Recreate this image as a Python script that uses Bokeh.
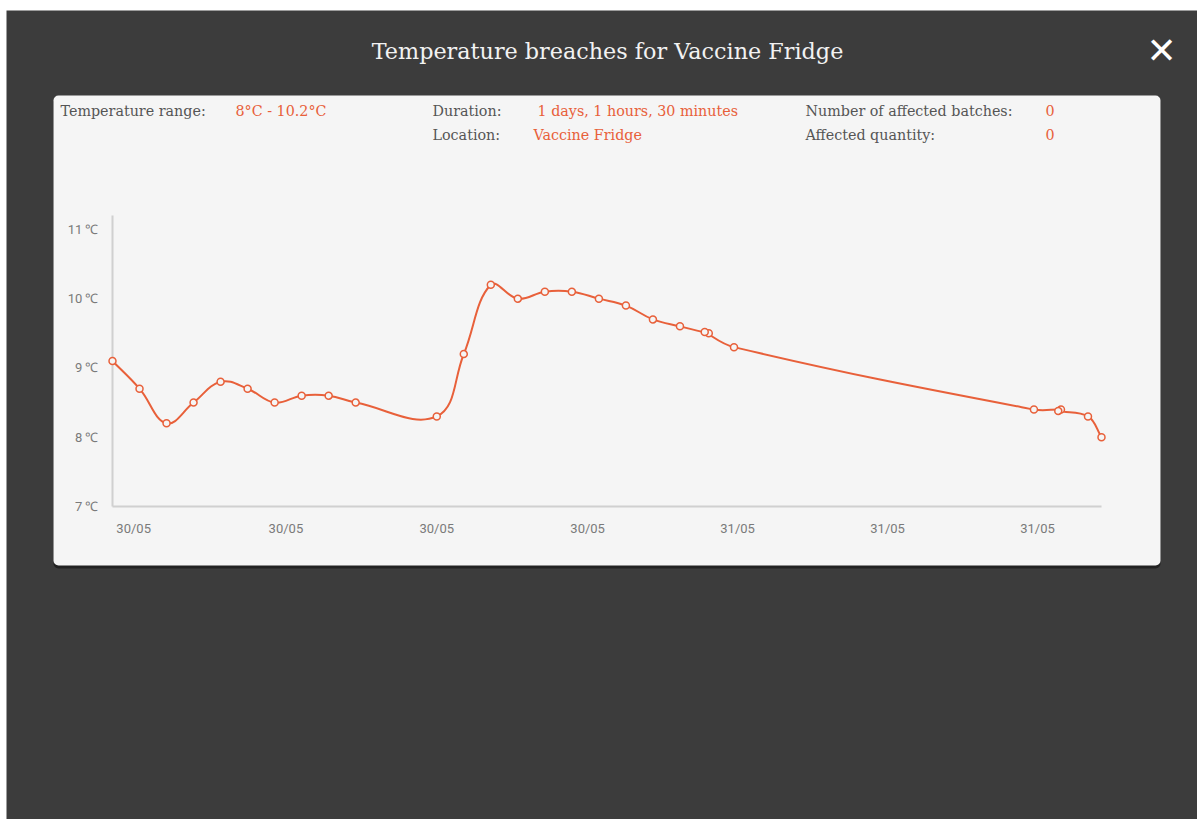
import math
import pandas as pd
from bokeh.plotting import figure
from bokeh.models import (Range1d, BoxAnnotation, Label, LabelSet, ColumnDataSource)
from bokeh.core.properties import value
from bokeh.embed import file_html
from bokeh.resources import INLINE

# ---------------- data ----------------
times = [
    "2023-05-30 02:00", "2023-05-30 03:00", "2023-05-30 04:00", "2023-05-30 05:00",
    "2023-05-30 06:00", "2023-05-30 07:00", "2023-05-30 08:00", "2023-05-30 09:00",
    "2023-05-30 10:00", "2023-05-30 11:00", "2023-05-30 14:00", "2023-05-30 15:00",
    "2023-05-30 16:00", "2023-05-30 17:00", "2023-05-30 18:00", "2023-05-30 19:00",
    "2023-05-30 20:00", "2023-05-30 21:00", "2023-05-30 22:00", "2023-05-30 23:00",
    "2023-05-31 00:04", "2023-05-30 23:55", "2023-05-31 01:00", "2023-05-31 12:06",
    "2023-05-31 13:06", "2023-05-31 13:00", "2023-05-31 14:06", "2023-05-31 14:36",
]
temps = [
    9.1, 8.7, 8.2, 8.5,
    8.8, 8.7, 8.5, 8.6,
    8.6, 8.5, 8.3, 9.2,
    10.2, 10.0, 10.1, 10.1,
    10.0, 9.9, 9.7, 9.6,
    9.5, 9.52, 9.3, 8.4,
    8.4, 8.38, 8.3, 8.0,
]
tick_times = ["2023-05-30 02:47", "2023-05-30 08:25", "2023-05-30 14:00", "2023-05-30 19:35",
              "2023-05-31 01:08", "2023-05-31 06:41", "2023-05-31 12:14"]
tick_labels = ["30/05", "30/05", "30/05", "30/05", "31/05", "31/05", "31/05"]
y_ticks = [7, 8, 9, 10, 11]
y_tick_labels = ["7 ℃", "8 ℃", "9 ℃", "10 ℃", "11 ℃"]
y_min, y_max = 7, 11.2

title_text = "Temperature breaches for Vaccine Fridge"
info_keys = ["Temperature range:", "Duration:", "Location:",
             "Number of affected batches:", "Affected quantity:"]
info_values = ["8°C - 10.2°C", "1 days, 1 hours, 30 minutes", "Vaccine Fridge", "0", "0"]

# ---------------- styles / layout (pixels) ----------------
ORANGE = "#e8603a"
DARK = "#3c3c3c"
PANEL = "#f5f5f5"
AXIS = "#d0d0d0"
W, H = 1197, 819
PL, PR, PT, PB = 112, 1101, 215, 506      # chart area inside the canvas

dt = pd.to_datetime(times)
epoch = pd.Timestamp("1970-01-01")
xms = [(t - epoch) / pd.Timedelta(milliseconds=1) for t in dt]
hrs = [(t - dt[0]) / pd.Timedelta(hours=1) for t in dt]
tick_ms = [(pd.Timestamp(t) - epoch) / pd.Timedelta(milliseconds=1) for t in tick_times]
x_lo, x_hi = xms[0], max(xms)

# Chart.js-like spline control points (tension 0.4)
def controls(xs, ys, tension=0.4, yscale=2.57):
    n = len(xs)
    prev_cp, next_cp = [], []
    for i in range(n):
        x0, y0 = (xs[i - 1], ys[i - 1]) if i > 0 else (xs[i], ys[i])
        x1, y1 = xs[i], ys[i]
        x2, y2 = (xs[i + 1], ys[i + 1]) if i < n - 1 else (xs[i], ys[i])
        d01 = math.hypot(x1 - x0, (y1 - y0) * yscale)
        d12 = math.hypot(x2 - x1, (y2 - y1) * yscale)
        tot = d01 + d12
        fa = tension * (d01 / tot if tot else 0)
        fb = tension * (d12 / tot if tot else 0)
        prev_cp.append((x1 - fa * (x2 - x0), y1 - fa * (y2 - y0)))
        next_cp.append((x1 + fb * (x2 - x0), y1 + fb * (y2 - y0)))
    return prev_cp, next_cp

pc, nc = controls(hrs, temps)
h2ms = lambda h: xms[0] + h * 3600000.0
seg = dict(
    x0=xms[:-1], y0=temps[:-1], x1=xms[1:], y1=temps[1:],
    cx0=[h2ms(c[0]) for c in nc[:-1]], cy0=[c[1] for c in nc[:-1]],
    cx1=[h2ms(c[0]) for c in pc[1:]], cy1=[c[1] for c in pc[1:]],
)

# ranges so that the data area lands on the chart area of a full-canvas frame
sx = (x_hi - x_lo) / (PR - PL)
sy = (y_max - y_min) / (PB - PT)
x_range = Range1d(x_lo - PL * sx, x_hi + (W - PR) * sx)
y_range = Range1d(y_min - (H - PB) * sy, y_max + PT * sy)

p = figure(width=W, height=H, output_backend="svg", toolbar_location=None,
           x_range=x_range, y_range=y_range,
           x_axis_location=None, y_axis_location=None,
           min_border=0)
p.border_fill_color = "#ffffff"
p.background_fill_color = "#ffffff"
p.outline_line_color = None
p.grid.visible = False

def scr_box(l, t, r, b, **kw):
    return BoxAnnotation(left=l, right=r, top=H - t, bottom=H - b,
                         left_units="screen", right_units="screen",
                         top_units="screen", bottom_units="screen",
                         line_color=None, level="underlay", **kw)

# page background, panel shadow, panel
p.add_layout(scr_box(6, 10, W, H, fill_color=DARK, fill_alpha=1))
p.add_layout(scr_box(53, 97, 1160, 568, fill_color="#1c1c1c", fill_alpha=0.8, border_radius=5))
p.add_layout(scr_box(53, 95, 1160, 565, fill_color=PANEL, fill_alpha=1, border_radius=5))

# axes lines
p.segment(x0=[x_lo, x_lo], y0=[y_min, y_min], x1=[x_lo, x_hi], y1=[y_max, y_min],
          line_color=AXIS, line_width=2)

# tick labels
p.add_layout(LabelSet(source=ColumnDataSource(dict(x=tick_ms, y=[y_min] * len(tick_ms), t=tick_labels)),
                      x="x", y="y", text="t", y_offset=-22,
                      text_align="center", text_baseline="middle",
                      text_font=value("Roboto"), text_font_size=value("13px"),
                      text_color=value("#7a7a7a")))
p.add_layout(LabelSet(source=ColumnDataSource(dict(x=[x_lo] * len(y_ticks), y=y_ticks, t=y_tick_labels)),
                      x="x", y="y", text="t", x_offset=-14,
                      text_align="right", text_baseline="middle",
                      text_font=value("Roboto"), text_font_size=value("13px"),
                      text_color=value("#7a7a7a")))

# series
p.bezier(x0="x0", y0="y0", x1="x1", y1="y1", cx0="cx0", cy0="cy0", cx1="cx1", cy1="cy1",
         source=ColumnDataSource(seg), line_color=ORANGE, line_width=2)
p.scatter(xms, temps, size=7, marker="circle", fill_color=PANEL,
          line_color=ORANGE, line_width=1.5)

# texts
def scr_label(x, y, text, **kw):
    return Label(x=x, y=H - y, x_units="screen", y_units="screen", text=text,
                 text_baseline="middle", **kw)

p.add_layout(scr_label(607, 50, title_text, text_align="center",
                       text_font="DejaVu Serif", text_font_size="22.3px", text_color="#f2f2f2"))
p.add_layout(scr_label(1161, 50, "✕", text_align="center",
                       text_font="DejaVu Sans", text_font_size="36px", text_color="#ffffff"))

key_pos = [(60, 110), (432, 110), (432, 134), (805, 110), (805, 134)]
val_pos = [(235, 110), (537, 110), (533, 134), (1045, 110), (1045, 134)]
for k, (kx, ky) in zip(info_keys, key_pos):
    p.add_layout(scr_label(kx, ky, k, text_align="left", text_font="DejaVu Serif",
                           text_font_size="14.3px", text_color="#555555"))
for v, (vx, vy) in zip(info_values, val_pos):
    p.add_layout(scr_label(vx, vy, v, text_align="left", text_font="DejaVu Serif",
                           text_font_size="14.3px", text_color=ORANGE))

open("out.html", "w").write(file_html(p, INLINE))
